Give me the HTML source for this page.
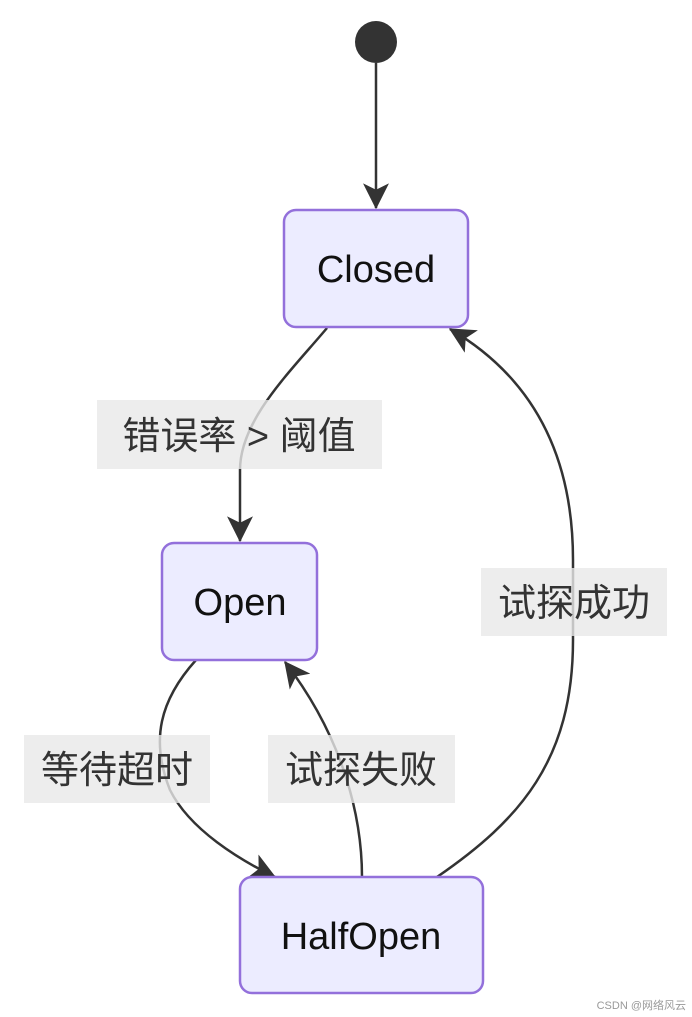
<!DOCTYPE html>
<html><head><meta charset="utf-8"><style>
body{margin:0;background:#fff;width:692px;height:1017px;overflow:hidden}
svg{display:block}
text{font-family:"Liberation Sans","Noto Sans CJK SC",sans-serif}
</style></head><body>
<svg width="692" height="1017" viewBox="0 0 692 1017">
<defs>
<marker id="a" viewBox="0 0 20 20" refX="19" refY="10" markerUnits="userSpaceOnUse" markerWidth="26" markerHeight="26" orient="auto">
<path d="M0,0 L20,10 L0,20 L5,10 z" fill="#333"/>
</marker>
</defs>
<circle cx="376" cy="42" r="21" fill="#333"/>
<g fill="none" stroke="#333" stroke-width="2.5">
<path d="M376,63 L376,208" marker-end="url(#a)"/>
<path d="M327,328 C290,372 240,420 240,470 L240,541" marker-end="url(#a)"/>
<path d="M437,877 C520,820 573,760 573,640 L573,560 C573,440 520,370 450,329" marker-end="url(#a)"/>
<path d="M196,660 C160,700 150,740 170,790 C190,830 240,860 275,877" marker-end="url(#a)"/>
<path d="M362,877 C362,820 345,740 285,662" marker-end="url(#a)"/>
</g>
<g fill="#ECECFF" stroke="#9370DB" stroke-width="2.5">
<rect x="284" y="210" width="184" height="117" rx="12"/>
<rect x="162" y="543" width="155" height="117" rx="12"/>
<rect x="240" y="877" width="243" height="116" rx="12"/>
</g>
<g font-size="38" fill="#111" text-anchor="middle">
<text x="376" y="282">Closed</text>
<text x="240" y="615">Open</text>
<text x="361" y="949">HalfOpen</text>
</g>
<g fill="rgba(232,232,232,0.8)">
<rect x="97" y="400" width="285" height="69"/>
<rect x="481" y="568" width="186" height="68"/>
<rect x="24" y="735" width="186" height="68"/>
<rect x="268" y="735" width="187" height="68"/>
</g>
<g font-size="38" fill="#333" text-anchor="middle">
<text x="239" y="449">错误率 &gt; 阈值</text>
<text x="574" y="616">试探成功</text>
<text x="117" y="783">等待超时</text>
<text x="361" y="783">试探失败</text>
</g>
<text x="686" y="1009" font-size="11" fill="#999" text-anchor="end">CSDN @网络风云</text>
</svg>
</body></html>
